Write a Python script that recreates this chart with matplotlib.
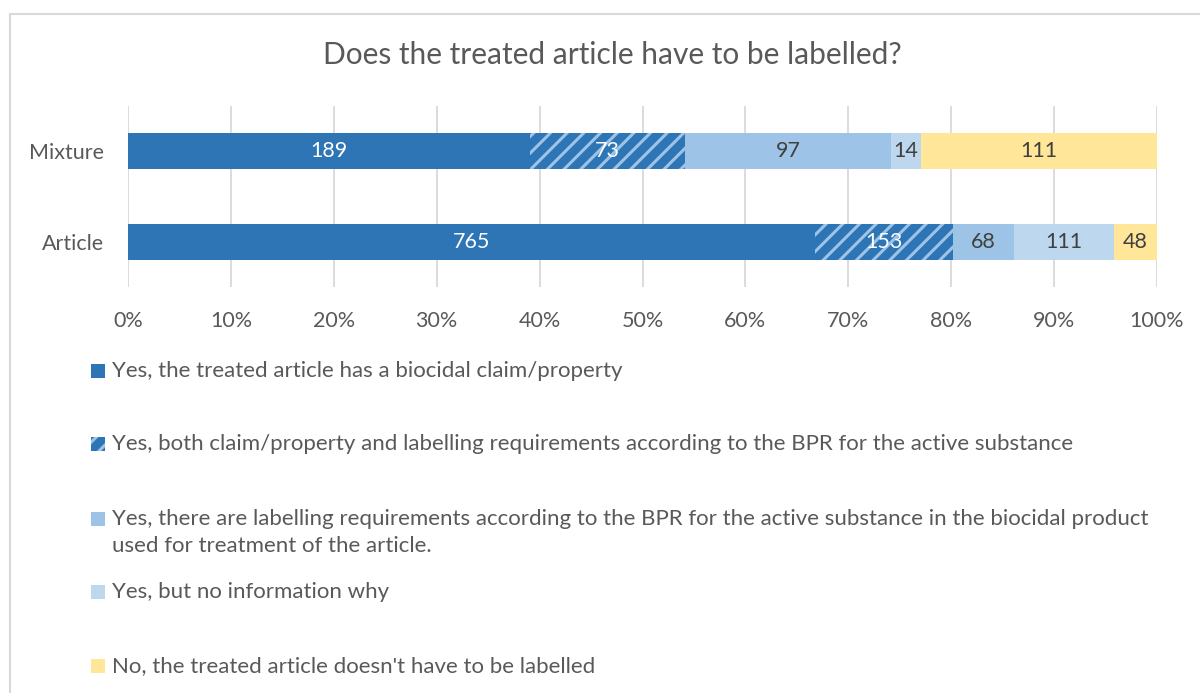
import matplotlib
matplotlib.use("Agg")
import matplotlib.pyplot as plt
from matplotlib.patches import Rectangle
from matplotlib.lines import Line2D
import numpy as np

plt.rcParams['font.family'] = ['Lato', 'DejaVu Sans']
plt.rcParams['hatch.linewidth'] = 2.2

categories = ["Article", "Mixture"]
series_labels = [
    "Yes, the treated article has a biocidal claim/property",
    "Yes, both claim/property and labelling requirements according to the BPR for the active substance",
    "Yes, there are labelling requirements according to the BPR for the active substance in the biocidal product\nused for treatment of the article.",
    "Yes, but no information why",
    "No, the treated article doesn't have to be labelled",
]
values = [
    [765, 189],
    [153, 73],
    [68, 97],
    [111, 14],
    [48, 111],
]
colors = ["#2E75B6", "#2E75B6", "#9DC3E6", "#BDD7EE", "#FFE699"]
hatches = [None, "//", None, None, None]
label_colors = ["white", "white", "#404040", "#404040", "#404040"]
xticks = np.arange(0, 1.01, 0.1)
xtick_labels = [f"{int(round(t*100))}%" for t in xticks]
title = "Does the treated article have to be labelled?"

W, H = 1200, 693
fig = plt.figure(figsize=(W/100, H/100), dpi=100)
ax = fig.add_axes([128/W, 1-287/H, (1157-128)/W, (287-106)/H])

vals = np.array(values, dtype=float)
totals = vals.sum(axis=0)
shares = vals / totals
y = np.arange(len(categories))
left = np.zeros(len(categories))
for i in range(len(values)):
    kw = dict(color=colors[i], linewidth=0, zorder=3)
    if hatches[i]:
        kw.update(hatch=hatches[i], edgecolor="#9DC3E6")
    ax.barh(y, shares[i], left=left, height=0.4, **kw)
    for j in range(len(categories)):
        ax.text(left[j] + shares[i][j]/2, y[j], str(values[i][j]), ha="center", va="center",
                fontsize=15.5, color=label_colors[i], zorder=4)
    left += shares[i]

ax.set_xlim(0, 1)
ax.set_ylim(-0.5, 1.5)
ax.set_xticks(xticks)
ax.set_xticklabels(xtick_labels)
ax.set_yticks(y)
ax.set_yticklabels(categories)
ax.tick_params(axis='both', length=0, labelsize=15.5, labelcolor="#595959")
ax.tick_params(axis='x', pad=17)
ax.tick_params(axis='y', pad=17)
ax.xaxis.grid(True, color="#D9D9D9", linewidth=1.3, zorder=0)
ax.set_axisbelow(True)
for s in ax.spines.values():
    s.set_visible(False)

fig.text(612/W, 1-55/H, title, ha="center", va="center", fontsize=21.5, color="#595959")

# legend (manual, Excel-style)
leg_y = [371, 444, 519, 592, 666]
line_step = 27
for i, lab in enumerate(series_labels):
    yc = leg_y[i]
    kw = dict(facecolor=colors[i], linewidth=0)
    if hatches[i]:
        kw.update(hatch="//", edgecolor="#9DC3E6")
    fig.patches.append(Rectangle((91/W, 1-(yc+7)/H), 14/W, 14/H, transform=fig.transFigure, **kw))
    for k, line in enumerate(lab.split("\n")):
        fig.text(112/W, 1-(yc + k*line_step)/H, line, ha="left", va="center",
                 fontsize=16, color="#595959")

# border
fig.add_artist(Line2D([10/W, 1], [1-14/H, 1-14/H], color="#D9D9D9", linewidth=1.5, transform=fig.transFigure))
fig.add_artist(Line2D([10/W, 10/W], [1-14/H, 0], color="#D9D9D9", linewidth=1.5, transform=fig.transFigure))

fig.savefig("out.png", dpi=100)
